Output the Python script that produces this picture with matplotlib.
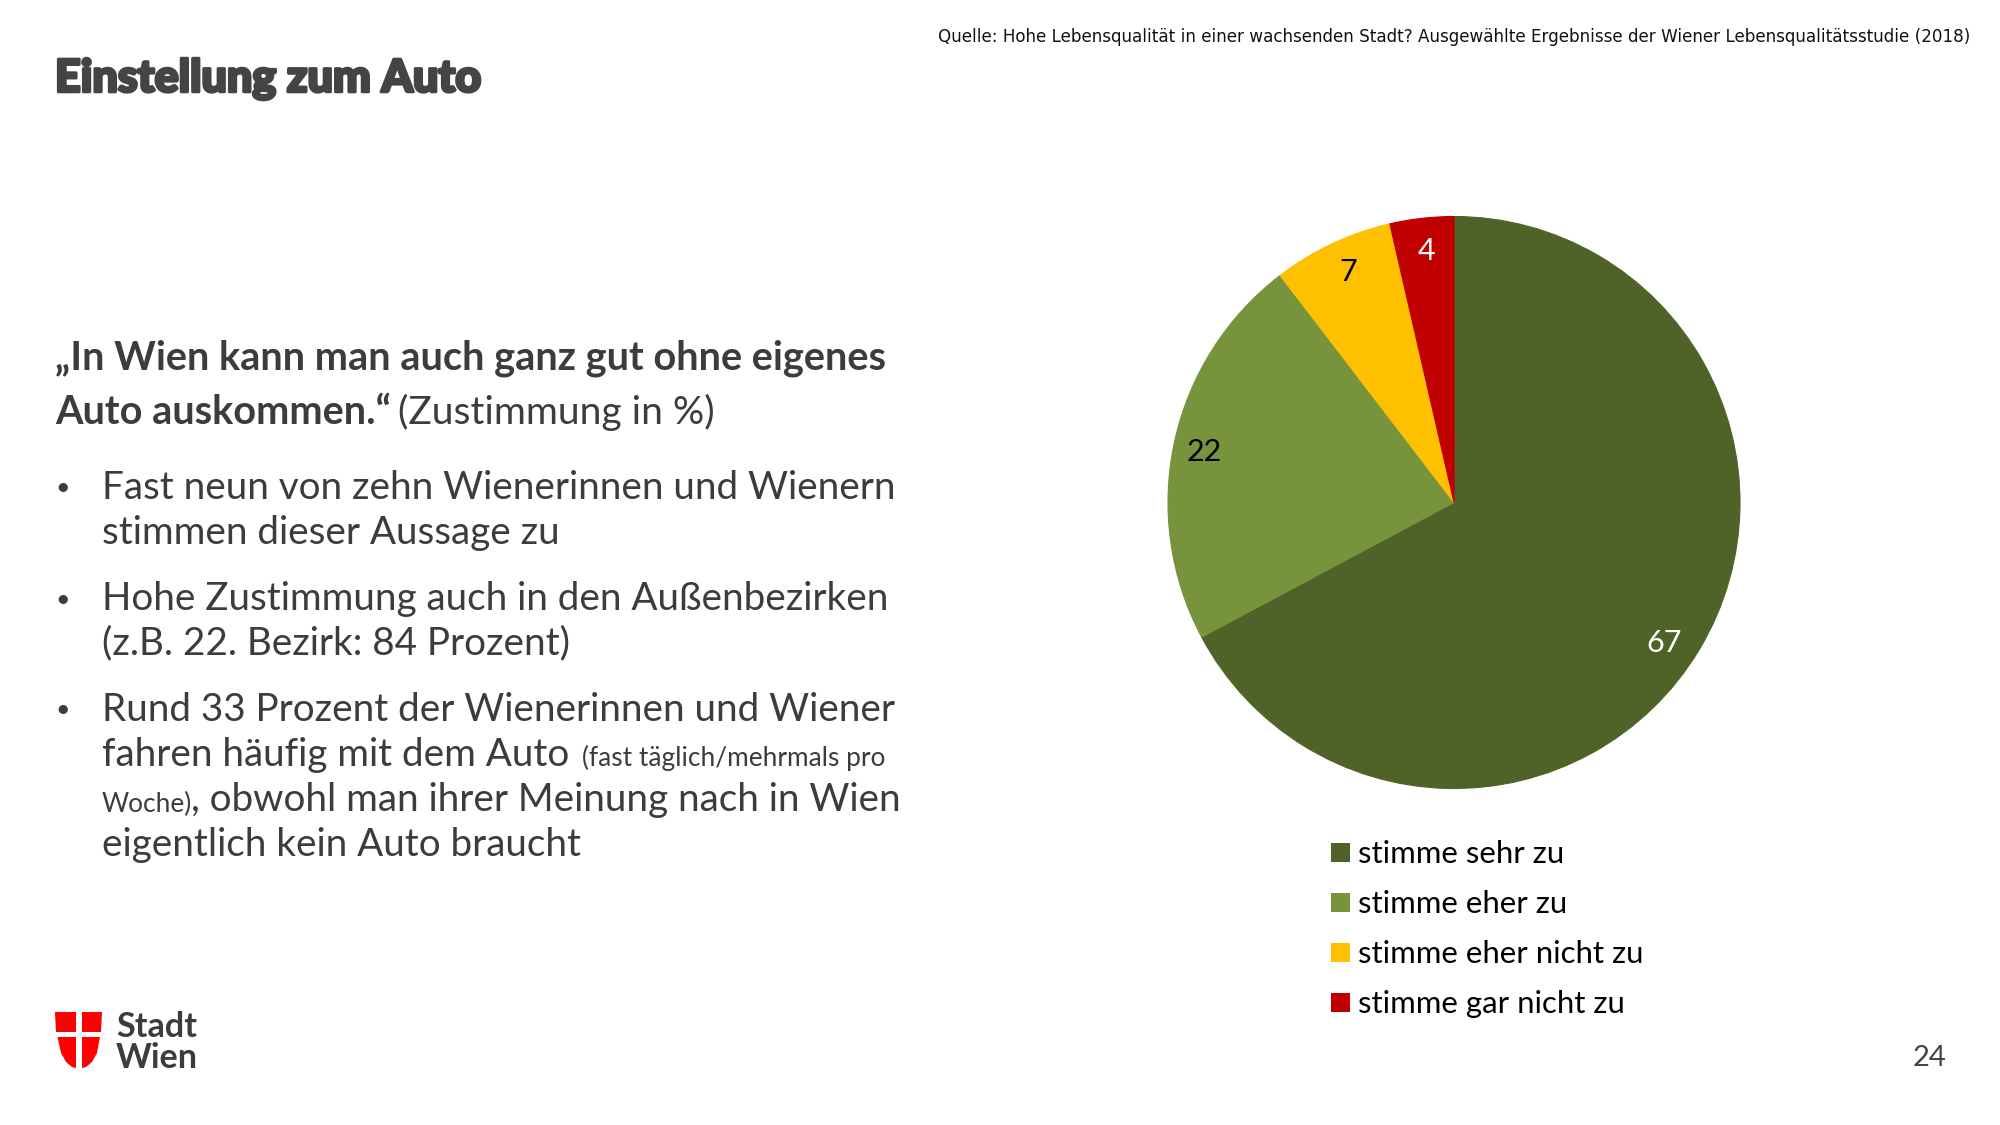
import matplotlib
matplotlib.use("Agg")
import matplotlib.pyplot as plt
import matplotlib.patheffects as pe
from matplotlib.patches import Rectangle, Polygon

title = "Einstellung zum Auto"
source = "Quelle: Hohe Lebensqualität in einer wachsenden Stadt? Ausgewählte Ergebnisse der Wiener Lebensqualitätsstudie (2018)"
categories = ["stimme sehr zu", "stimme eher zu", "stimme eher nicht zu", "stimme gar nicht zu"]
values = [67.2, 22.4, 6.8, 3.6]
colors = ["#4F6228", "#77933C", "#FFC000", "#C00000"]
label_colors = ["white", "black", "black", "white"]

W, H = 2000, 1125
fig = plt.figure(figsize=(20, 11.25), dpi=100, facecolor="white")
bg = fig.add_axes([0, 0, 1, 1])
bg.set_xlim(0, W); bg.set_ylim(H, 0); bg.axis("off")
TXT = "#3C3C3C"
F = "Lato"
BODY = 27.8

def t(x, y, s, size, weight="normal", color=TXT, family=F, **kw):
    return bg.text(x, y, s, fontsize=size, fontweight=weight, color=color, family=family, va="center", **kw)

head = t(55, 79, title, 32.3, 900, color="#444444")
head.set_path_effects([pe.withStroke(linewidth=2.2, foreground="#444444")])
t(1970, 36.5, source, 12.02, family="DejaVu Sans", color="#111111", ha="right")

t(55, 358, "„In Wien kann man auch ganz gut ohne eigenes", 28.6, "bold")
t(55, 412, "Auto auskommen.“", 28.5, "bold")
t(398, 412, "(Zustimmung in %)", 28.1)

lines = [
    (488, "Fast neun von zehn Wienerinnen und Wienern", True),
    (533, "stimmen dieser Aussage zu", False),
    (599, "Hohe Zustimmung auch in den Außenbezirken", True),
    (643, "(z.B. 22. Bezirk: 84 Prozent)", False),
    (710, "Rund 33 Prozent der Wienerinnen und Wiener", True),
]
for y, s, bullet in lines:
    t(102, y, s, BODY)
    if bullet:
        t(55, y, "•", 18)
t(102, 755, "fahren häufig mit dem Auto", BODY)
t(582, 758, "(fast täglich/mehrmals pro", 18.9)
t(102, 804, "Woche)", 18.9)
t(191, 800, ", obwohl man ihrer Meinung nach in Wien", BODY)
t(102, 845, "eigentlich kein Auto braucht", BODY)

# logo
red = "#FF0000"
bg.add_patch(Polygon([(55, 1012), (76, 1012), (76, 1032), (56, 1032)], color=red, lw=0))
bg.add_patch(Polygon([(82, 1012), (102, 1012), (101, 1032), (82, 1032)], color=red, lw=0))
bg.add_patch(Polygon([(57.5, 1037), (76, 1037), (76, 1068), (72, 1067), (66, 1062), (61, 1053)], color=red, lw=0))
bg.add_patch(Polygon([(82, 1037), (100, 1037), (97, 1053), (92, 1062), (86, 1067), (82, 1068)], color=red, lw=0))
t(116, 1027, "Stadt", 24.6, "bold")
t(116, 1058, "Wien", 24.6, "bold")
t(1946, 1058, "24", 21, ha="right", color="#444444")

# pie
cx, cy, r = 1454, 502.5, 286
ax = fig.add_axes([(cx - r) / W, 1 - (cy + r) / H, 2 * r / W, 2 * r / H])
wedges, _ = ax.pie(values, colors=colors, startangle=90, counterclock=False, radius=1,
                   wedgeprops=dict(linewidth=0.8))
for w, c in zip(wedges, colors):
    w.set_edgecolor(c)
ax.set_xlim(-1, 1); ax.set_ylim(-1, 1)
label_pos = [(0.735, -0.49), (-0.873, 0.178), (-0.37, 0.805), (-0.098, 0.88)]
for v, c, (x, y) in zip(values, label_colors, label_pos):
    ax.text(x, y, f"{v:.0f}", ha="center", va="center", fontsize=22, color=c, family="Lato", clip_on=False)

# legend
leg_y = [854, 904, 954, 1004]
box_y = [852, 902, 952, 1002]
for name, col, y, by in zip(categories, colors, leg_y, box_y):
    bg.add_patch(Rectangle((1331, by - 9.5), 19, 19, color=col, lw=0))
    t(1358, y, name, 22.4, color="black")

fig.savefig("out.png", dpi=100)
